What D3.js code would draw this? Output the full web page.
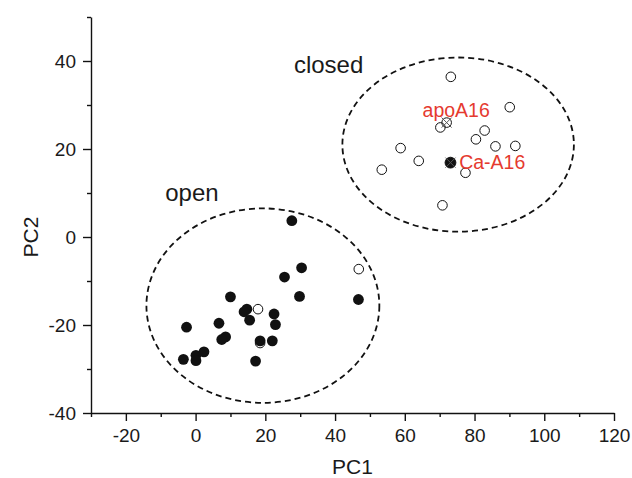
<!doctype html>
<html>
<head>
<meta charset="UTF-8">
<title>PCA scores</title>
<script src="https://cdn.jsdelivr.net/npm/d3@7"></script>
<style>
  body { margin: 0; background: #fff; }
  text { font-family: "Liberation Sans", Arial, Helvetica, sans-serif; fill: #1a1a1a; }
</style>
</head>
<body>
<svg id="chart" width="632" height="478"></svg>
<script>
// filled circles (open state)
var filledPC1 = [27.6, 30.4, 25.5, 29.8, 46.7, 10.0, 14.7, 13.9, 15.5, 22.5, 22.9, -2.6, 6.7, 8.6, 7.5, 18.5, 22.0, 17.2, 2.4, 0.1, 0.1, -3.5];
var filledPC2 = [3.7, -7.0, -9.1, -13.5, -14.2, -13.6, -16.4, -17.0, -18.9, -17.5, -19.9, -20.5, -19.6, -22.7, -23.3, -23.6, -23.6, -28.2, -26.1, -26.9, -28.1, -27.8];

// hollow circles (closed state + a few in the open cluster)
var hollowPC1 = [73.2, 90.1, 82.9, 80.4, 86.0, 91.7, 58.8, 64.0, 53.4, 77.4, 70.8, 70.2, 46.8, 17.9, 18.5];
var hollowPC2 = [36.4, 29.5, 24.2, 22.2, 20.6, 20.7, 20.2, 17.3, 15.3, 14.6, 7.2, 24.9, -7.3, -16.4, -24.1];

// reference structures (crossed markers)
var refNames = ["apoA16", "Ca-A16"];
var refPC1 = [72.0, 73.1];
var refPC2 = [26.0, 16.9];
var refFilled = [false, true];
var refLabelPC1 = [65.1, 75.6];
var refLabelPC2 = [27.2, 15.5];

// dashed cluster ellipses
var groupNames = ["closed", "open"];
var ellCX = [75.3, 19.3];
var ellCY = [21.0, -15.6];
var ellRX = [33.2, 33.4];
var ellRY = [19.8, 22.1];
var groupLabelPC1 = [28.2, -8.7];
var groupLabelPC2 = [37.2, 8.1];

var xTicks = d3.range(-30, 121, 10);
var yTicks = d3.range(-40, 51, 10);

var svg = d3.select("#chart");
var x = d3.scaleLinear().domain([-30, 120]).range([91, 614]);
var y = d3.scaleLinear().domain([-40, 50]).range([413, 17]);

// ellipses
svg.append("g").selectAll("ellipse")
  .data(groupNames)
  .enter().append("ellipse")
  .attr("cx", function(d, i) { return x(ellCX[i]); })
  .attr("cy", function(d, i) { return y(ellCY[i]); })
  .attr("rx", function(d, i) { return x(ellCX[i] + ellRX[i]) - x(ellCX[i]); })
  .attr("ry", function(d, i) { return y(ellCY[i]) - y(ellCY[i] + ellRY[i]); })
  .attr("fill", "none")
  .attr("stroke", "#111")
  .attr("stroke-width", 1.8)
  .attr("stroke-dasharray", "6,4");

svg.append("g").selectAll("text")
  .data(groupNames)
  .enter().append("text")
  .attr("x", function(d, i) { return x(groupLabelPC1[i]); })
  .attr("y", function(d, i) { return y(groupLabelPC2[i]); })
  .attr("font-size", 24)
  .text(function(d) { return d; });

// points
var pts = svg.append("g");
pts.selectAll("circle.hollow")
  .data(hollowPC1)
  .enter().append("circle")
  .attr("class", "hollow")
  .attr("cx", function(d) { return x(d); })
  .attr("cy", function(d, i) { return y(hollowPC2[i]); })
  .attr("r", 4.8)
  .attr("fill", "none")
  .attr("stroke", "#111")
  .attr("stroke-width", 1);

pts.selectAll("circle.filled")
  .data(filledPC1)
  .enter().append("circle")
  .attr("class", "filled")
  .attr("cx", function(d) { return x(d); })
  .attr("cy", function(d, i) { return y(filledPC2[i]); })
  .attr("r", 5.4)
  .attr("fill", "#111");

// crossed reference markers
var refs = svg.append("g").selectAll("g")
  .data(refNames)
  .enter().append("g")
  .attr("transform", function(d, i) { return "translate(" + x(refPC1[i]) + "," + y(refPC2[i]) + ")"; });

refs.append("circle")
  .attr("r", function(d, i) { return refFilled[i] ? 5.4 : 4.8; })
  .attr("fill", function(d, i) { return refFilled[i] ? "#111" : "none"; })
  .attr("stroke", "#111")
  .attr("stroke-width", 1);

refs.append("path")
  .attr("d", "M-5,-5L5,5M-5,5L5,-5")
  .attr("stroke", "#555")
  .attr("stroke-width", 1);

svg.append("g").selectAll("text")
  .data(refNames)
  .enter().append("text")
  .attr("x", function(d, i) { return x(refLabelPC1[i]); })
  .attr("y", function(d, i) { return y(refLabelPC2[i]); })
  .attr("font-size", 19.5)
  .style("fill", "#e53a2f")
  .text(function(d) { return d; });

// axes
function styleAxis(g) {
  g.select(".domain").attr("stroke", "#111").attr("stroke-width", 1.4);
  g.selectAll(".tick line").attr("stroke", "#111").attr("stroke-width", 1.4);
  g.selectAll(".tick text").attr("font-size", 19).style("fill", "#1a1a1a");
}

var gx = svg.append("g")
  .attr("transform", "translate(0," + y(-40) + ")")
  .call(d3.axisBottom(x).tickValues(xTicks).tickSize(8).tickSizeOuter(0).tickPadding(8)
    .tickFormat(function(d) { return d % 20 === 0 ? String(d) : ""; }));
gx.selectAll(".tick").filter(function(d) { return d % 20 !== 0; }).select("line").attr("y2", 4);
styleAxis(gx);

var gy = svg.append("g")
  .attr("transform", "translate(" + x(-30) + ",0)")
  .call(d3.axisLeft(y).tickValues(yTicks).tickSize(8).tickSizeOuter(0).tickPadding(7)
    .tickFormat(function(d) { return d % 20 === 0 ? String(d) : ""; }));
gy.selectAll(".tick").filter(function(d) { return d % 20 !== 0; }).select("line").attr("x2", -4);
styleAxis(gy);

// axis titles
svg.append("text")
  .attr("x", (x.range()[0] + x.range()[1]) / 2)
  .attr("y", 474)
  .attr("text-anchor", "middle")
  .attr("font-size", 21)
  .text("PC1");

svg.append("text")
  .attr("transform", "translate(38," + y(0) + ") rotate(-90)")
  .attr("text-anchor", "middle")
  .attr("font-size", 21)
  .text("PC2");
</script>
</body>
</html>
